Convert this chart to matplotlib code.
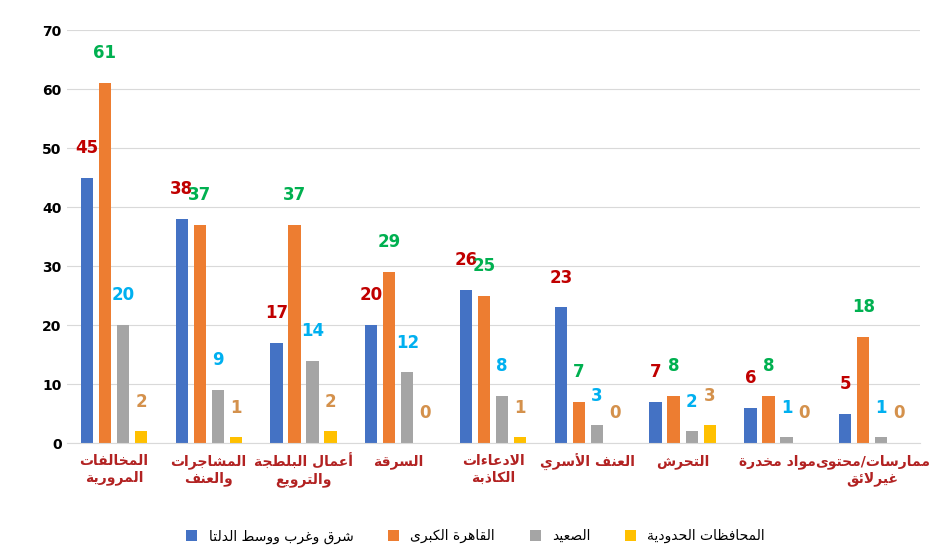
"""
Chart of incident counts by category and region.

1. shape_arabic(): joins Arabic letters into presentation forms and reverses them for display.
2. plot_incidents(): draws the grouped bar chart and saves it to out.png.
"""
import numpy as np
import matplotlib.pyplot as plt

# isolated form code point and number of forms (2 = joins only on the right, 4 = joins both sides)
FORMS = {
    'ء': (0xFE80, 1), 'آ': (0xFE81, 2), 'أ': (0xFE83, 2), 'ؤ': (0xFE85, 2), 'إ': (0xFE87, 2),
    'ئ': (0xFE89, 4), 'ا': (0xFE8D, 2), 'ب': (0xFE8F, 4), 'ة': (0xFE93, 2), 'ت': (0xFE95, 4),
    'ث': (0xFE99, 4), 'ج': (0xFE9D, 4), 'ح': (0xFEA1, 4), 'خ': (0xFEA5, 4), 'د': (0xFEA9, 2),
    'ذ': (0xFEAB, 2), 'ر': (0xFEAD, 2), 'ز': (0xFEAF, 2), 'س': (0xFEB1, 4), 'ش': (0xFEB5, 4),
    'ص': (0xFEB9, 4), 'ض': (0xFEBD, 4), 'ط': (0xFEC1, 4), 'ظ': (0xFEC5, 4), 'ع': (0xFEC9, 4),
    'غ': (0xFECD, 4), 'ف': (0xFED1, 4), 'ق': (0xFED5, 4), 'ك': (0xFED9, 4), 'ل': (0xFEDD, 4),
    'م': (0xFEE1, 4), 'ن': (0xFEE5, 4), 'ه': (0xFEE9, 4), 'و': (0xFEED, 2), 'ى': (0xFEEF, 2),
    'ي': (0xFEF1, 4),
    'لا': (0xFEFB, 2), 'لأ': (0xFEF7, 2), 'لإ': (0xFEF9, 2), 'لآ': (0xFEF5, 2),
}


def shape_arabic(text):
    # Соединяет буквы и переворачивает строку для отображения справа налево
    lines = []
    for line in text.split('\n'):
        letters = []
        i = 0
        while i < len(line):
            if line[i] == 'ل' and i + 1 < len(line) and line[i:i + 2] in FORMS:
                letters.append(line[i:i + 2])
                i += 2
            else:
                letters.append(line[i])
                i += 1
        out = []
        for k, ch in enumerate(letters):
            if ch not in FORMS:
                out.append(ch)
                continue
            base, n = FORMS[ch]
            prev = letters[k - 1] if k > 0 else None
            nxt = letters[k + 1] if k + 1 < len(letters) else None
            joins_prev = prev in FORMS and FORMS[prev][1] == 4 and n > 1
            joins_next = n == 4 and nxt in FORMS
            if joins_prev and joins_next:
                form = 3
            elif joins_next:
                form = 2
            elif joins_prev:
                form = 1
            else:
                form = 0
            out.append(chr(base + form))
        lines.append(''.join(reversed(out)))
    return '\n'.join(lines)


def plot_incidents():
    # Строит сгруппированную столбчатую диаграмму
    categories = ['المخالفات\nالمرورية', 'المشاجرات\nوالعنف', 'أعمال البلطجة\nوالترويع', 'السرقة',
                  'الادعاءات\nالكاذبة', 'العنف الأسري', 'التحرش', 'مواد مخدرة', 'ممارسات/محتوى\nغيرلائق']
    series = {
        'شرق وغرب ووسط الدلتا': [45, 38, 17, 20, 26, 23, 7, 6, 5],
        'القاهرة الكبرى': [61, 37, 37, 29, 25, 7, 8, 8, 18],
        'الصعيد': [20, 9, 14, 12, 8, 3, 2, 1, 1],
        'المحافظات الحدودية': [2, 1, 2, 0, 1, 0, 3, 0, 0],
    }
    bar_colors = ['#4472C4', '#ED7D31', '#A5A5A5', '#FFC000']
    label_colors = ['#C00000', '#00B050', '#00B0F0', '#D4914C']

    x = np.arange(len(categories))
    width = 0.13
    step = 0.19

    fig = plt.figure(figsize=(9.51, 5.56), dpi=100)
    ax = fig.add_axes([0.07, 0.203, 0.897, 0.743])
    for j, (name, values) in enumerate(series.items()):
        pos = x + (j - 1.5) * step
        ax.bar(pos, values, width, color=bar_colors[j], label=shape_arabic(name), zorder=2)
        for p, v in zip(pos, values):
            ax.text(p, v + 3.5, str(v), ha='center', va='bottom', color=label_colors[j],
                    fontsize=12, fontweight='bold')

    ax.set_ylim(0, 70)
    ax.set_yticks(range(0, 71, 10))
    ax.set_xlim(-0.5, len(categories) - 0.5)
    ax.set_xticks(x)
    ax.set_xticklabels([shape_arabic(c) for c in categories], fontsize=10, fontweight='bold',
                       color='#B22222')
    ax.tick_params(axis='y', labelsize=10, length=0)
    ax.tick_params(axis='x', length=0, pad=8)
    for lbl in ax.get_yticklabels():
        lbl.set_fontweight('bold')
    ax.grid(axis='y', color='#D9D9D9', zorder=0)
    for s in ['top', 'right', 'left']:
        ax.spines[s].set_visible(False)
    ax.spines['bottom'].set_color('#D9D9D9')

    fig.legend(loc='lower center', ncol=4, frameon=False, fontsize=10, bbox_to_anchor=(0.5, 0.0),
               handlelength=0.8, handleheight=0.8, columnspacing=2.5)

    plt.savefig('out.png', dpi=100)
    plt.close()


plot_incidents()
